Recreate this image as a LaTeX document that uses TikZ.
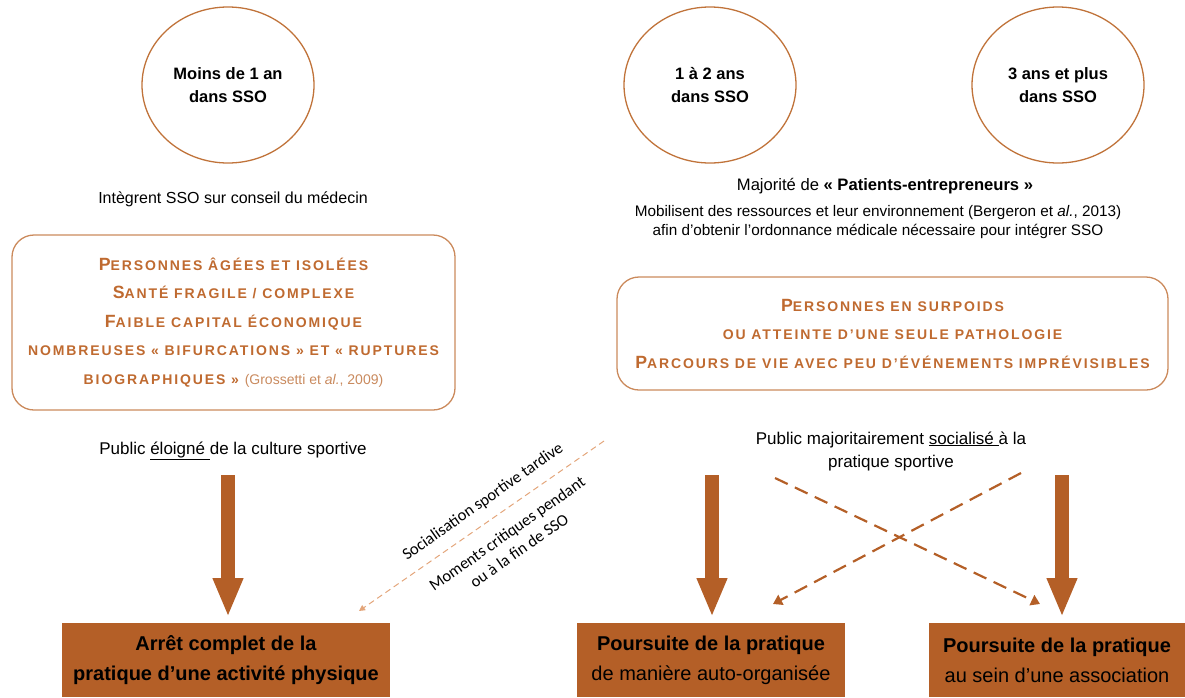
\documentclass[tikz,border=0pt]{standalone}
\usepackage{fontspec}
\setmainfont{Liberation Sans}
\newfontfamily\calib{Carlito}
\newfontfamily\spaced{Liberation Sans}[LetterSpace=13.5]
\usetikzlibrary{arrows.meta,shapes.geometric}

\definecolor{rust}{HTML}{B45F27}
\definecolor{ringc}{HTML}{C0733A}
\definecolor{framec}{HTML}{CB8A5C}
\definecolor{sctext}{HTML}{BF6A30}
\definecolor{citec}{HTML}{C98A5E}
\definecolor{lightdash}{HTML}{E3A57A}

% fake small caps: big initial, then smaller capitals
\newcommand\sco[2]{{\fontsize{17.7}{28.5}\selectfont #1}{\fontsize{14}{28.5}\selectfont\MakeUppercase{#2}}}
\newcommand\scs[1]{{\fontsize{14}{28.5}\selectfont\MakeUppercase{#1}}}

\begin{document}
\begin{tikzpicture}[x=1pt,y=-1pt,lbl/.style={inner sep=0pt, align=center, font=\fontsize{16}{23}\selectfont}]
\tikzstyle{stage}=[ellipse, draw=ringc, line width=1.3pt, minimum width=172pt, minimum height=156pt, align=center, font=\bfseries\fontsize{16.5}{23}\selectfont]
\tikzstyle{profil}=[draw=framec, line width=1.3pt, rounded corners=22pt, align=center, text=sctext, font=\spaced\bfseries\fontsize{14}{28.5}\selectfont]
\tikzstyle{issue}=[fill=rust, anchor=north, minimum height=74pt, align=center, font=\fontsize{20}{30}\selectfont]
\tikzstyle{bigarrow}=[rust, line width=14pt, -{Triangle[width=28pt,length=39pt]}]
\tikzstyle{cross}=[rust, line width=2.2pt, dash pattern=on 14pt off 8pt, -{Triangle[width=11pt,length=9pt]}]
\useasboundingbox (0,0) rectangle (1185,697);

\node[stage] (moins1) at (228,85) {Moins de 1 an\\dans SSO};
\node[stage] (un2) at (710,85) {1 à 2 ans\\dans SSO};
\node[stage] (trois) at (1058,85) {3 ans et plus\\dans SSO};

\node[lbl] (conseil) at (233,199) {Intègrent SSO sur conseil du médecin};
\node[lbl, font=\fontsize{16.6}{23}\selectfont] (majo) at (885,186) {Majorité de \textbf{« Patients-entrepreneurs »}};
\node[lbl, font=\fontsize{15.3}{19.5}\selectfont] (mobil) at (878,222) {Mobilisent des ressources et leur environnement (Bergeron et \textit{al.}, 2013)\\afin d'obtenir l'ordonnance médicale nécessaire pour intégrer SSO};

\node[profil, minimum width=443pt, minimum height=175pt] (fragiles) at (233.5,322.5) {\sco{P}{ersonnes âgées et isolées}\\
\sco{S}{anté fragile / complexe}\\
\sco{F}{aible capital économique}\\
\scs{nombreuses « bifurcations » et « ruptures}\\
\scs{biographiques »} {\normalfont\mdseries\color{citec}\fontsize{14}{28.5}\selectfont(Grossetti et \textit{al.}, 2009)}};
\node[profil, minimum width=551pt, minimum height=113pt] (surpoids) at (892.5,333.5) {\sco{P}{ersonnes en surpoids}\\
\scs{ou atteinte d’une seule pathologie}\\
\sco{P}{arcours de vie avec peu d’événements imprévisibles}};

\node[lbl, font=\fontsize{17}{23}\selectfont] (eloigne) at (233,451) {Public \underline{éloigné\ }de la culture sportive};
\node[lbl, font=\fontsize{17}{23}\selectfont] (socialise) at (891,451) {Public majoritairement \underline{socialisé\ }à la\\pratique sportive};

\node[issue, minimum width=328pt] (arret) at (226,623) {\textbf{Arrêt complet de la}\\\textbf{pratique d’une activité physique}};
\node[issue, minimum width=268pt] (auto) at (711,623) {\textbf{Poursuite de la pratique}\\de manière auto-organisée};
\node[issue, minimum width=256pt] (assoc) at (1057,623) {\textbf{Poursuite de la pratique}\\au sein d’une association};

\foreach \i/\x in {1/228,2/712,3/1062}{
  \coordinate (haut\i) at (\x,475);
  \coordinate (bas\i) at (\x,617);
  \draw[bigarrow] (haut\i) -- (bas\i);
}

% late socialisation line
\coordinate (tardA) at (604,441);
\coordinate (tardB) at (359,611);
\draw[lightdash, line width=1pt, dash pattern=on 6pt off 4pt, -{Triangle[width=6pt,length=6pt]}] (tardA) -- (tardB);
\node[rotate=35, inner sep=0pt, font=\calib\fontsize{16.5}{21}\selectfont] (tardive) at (483,502) {Socialisation sportive tardive};
\node[rotate=35, inner sep=0pt, align=center, font=\calib\fontsize{16.5}{21}\selectfont] (critiques) at (513,542) {Moments critiques pendant\\ou à la fin de SSO};

\coordinate (xa1) at (775,478);
\coordinate (xa2) at (1040,604);
\coordinate (xb1) at (1021,473);
\coordinate (xb2) at (773,604);
\draw[cross] (xa1) -- (xa2);
\draw[cross] (xb1) -- (xb2);
\end{tikzpicture}
\end{document}
